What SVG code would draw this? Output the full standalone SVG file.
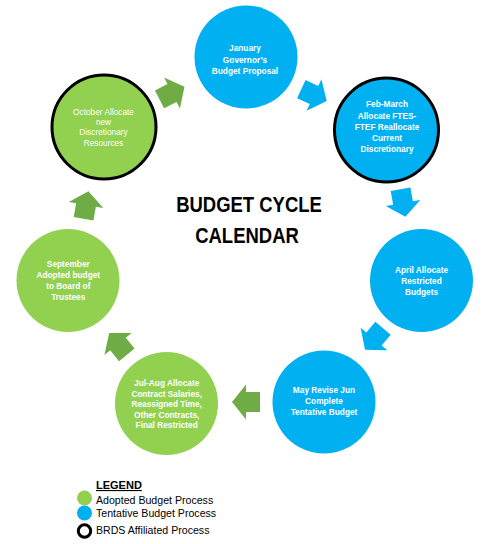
<svg xmlns="http://www.w3.org/2000/svg" width="490" height="544" viewBox="0 0 490 544">
<style>
.green{fill:#92D050}
.blue{fill:#00B0F0}
.brds{stroke:#000;stroke-width:3}
.ga{fill:#6FAC46}
.ba{fill:#00B0F0}
.nt{font-family:"Liberation Sans",Arial,sans-serif;font-size:8.3px;font-weight:bold;fill:#fff;text-anchor:middle}
.nt.reg{font-weight:normal}
.title{font-family:"Liberation Sans",Arial,sans-serif;font-size:22px;font-weight:bold;fill:#000;text-anchor:middle}
.lg{font-family:"Liberation Sans",Arial,sans-serif;font-size:10.6px;fill:#000}
.lgh{font-family:"Liberation Sans",Arial,sans-serif;font-size:11px;font-weight:bold;fill:#000;text-decoration:underline}
</style>
<defs>
<path id="arr" d="M-14,-10 L0,-10 L0,-17.5 L14,0 L0,17.5 L0,10 L-14,10 Z"/>
</defs>
<rect width="490" height="544" fill="#fff"/>

<g id="connectors">
<use href="#arr" class="ba" transform="translate(314,95) rotate(25)"/>
<use href="#arr" class="ba" transform="translate(403,203) rotate(80)"/>
<use href="#arr" class="ba" transform="translate(374,339) rotate(130)"/>
<use href="#arr" class="ga" transform="translate(246,402) rotate(180)"/>
<use href="#arr" class="ga" transform="translate(118,344) rotate(-129)"/>
<use href="#arr" class="ga" transform="translate(86,205) rotate(-80)"/>
<use href="#arr" class="ga" transform="translate(172,93) rotate(-27)"/>
</g>

<g id="node-january">
<circle class="blue" cx="246" cy="57" r="51.5"/>
<text class="nt" x="245" y="51">January</text>
<text class="nt" x="245" y="62.5">Governor’s</text>
<text class="nt" x="245" y="74">Budget Proposal</text>
</g>

<g id="node-febmarch">
<circle class="blue brds" cx="386.5" cy="130" r="52"/>
<text class="nt" x="387" y="107.3">Feb-March</text>
<text class="nt" x="387" y="118.6">Allocate FTES-</text>
<text class="nt" x="387" y="129.8">FTEF Reallocate</text>
<text class="nt" x="387" y="141">Current</text>
<text class="nt" x="387" y="152.2">Discretionary</text>
</g>

<g id="node-april">
<circle class="blue" cx="421.5" cy="280.5" r="51.5"/>
<text class="nt" x="421.5" y="272.5">April Allocate</text>
<text class="nt" x="421.5" y="283.8">Restricted</text>
<text class="nt" x="421.5" y="294.5">Budgets</text>
</g>

<g id="node-may">
<circle class="blue" cx="324" cy="402" r="51.5"/>
<text class="nt" x="324" y="393">May Revise Jun</text>
<text class="nt" x="324" y="404.3">Complete</text>
<text class="nt" x="324" y="415">Tentative Budget</text>
</g>

<g id="node-julaug">
<circle class="green" cx="166.5" cy="403.5" r="51.5"/>
<text class="nt" x="166.7" y="385.8">Jul-Aug Allocate</text>
<text class="nt" x="166.7" y="396.5">Contract Salaries,</text>
<text class="nt" x="166.7" y="407.2">Reassigned Time,</text>
<text class="nt" x="166.7" y="417.7">Other Contracts,</text>
<text class="nt" x="166.7" y="428.2">Final Restricted</text>
</g>

<g id="node-september">
<circle class="green" cx="68" cy="280.5" r="51.5"/>
<text class="nt" x="68.3" y="267.2">September</text>
<text class="nt" x="68.3" y="278.2">Adopted budget</text>
<text class="nt" x="68.3" y="289.2">to Board of</text>
<text class="nt" x="68.3" y="300">Trustees</text>
</g>

<g id="node-october">
<circle class="green brds" cx="104" cy="127" r="52"/>
<text class="nt reg" x="103.5" y="114.8">October Allocate</text>
<text class="nt reg" x="103.5" y="124.9">new</text>
<text class="nt reg" x="103.5" y="135">Discretionary</text>
<text class="nt reg" x="103.5" y="145.5">Resources</text>
</g>

<g id="title">
<text class="title" transform="translate(249,212) scale(0.84,1)">BUDGET CYCLE</text>
<text class="title" transform="translate(247,243) scale(0.84,1)">CALENDAR</text>
</g>

<g id="legend">
<text class="lgh" x="96" y="489">LEGEND</text>
<circle class="green" cx="84.5" cy="498" r="7.5"/>
<text class="lg" x="96" y="504">Adopted Budget Process</text>
<circle class="blue" cx="84.5" cy="513" r="7.5"/>
<text class="lg" x="96" y="516.5">Tentative Budget Process</text>
<circle cx="84.5" cy="531" r="6.2" fill="#fff" stroke="#000" stroke-width="3"/>
<text class="lg" x="96" y="533.5">BRDS Affiliated Process</text>
</g>
</svg>
